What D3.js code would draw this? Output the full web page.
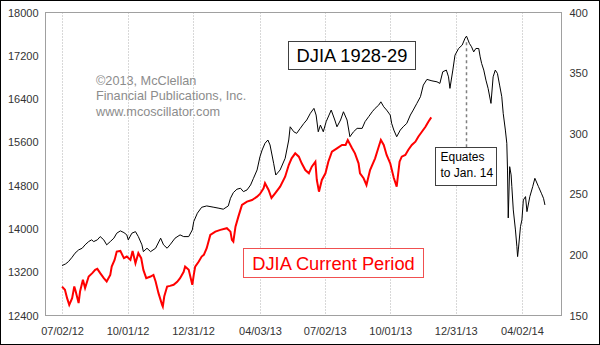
<!DOCTYPE html>
<html><head><meta charset="utf-8">
<script src="https://cdn.jsdelivr.net/npm/d3@7"></script>
<style>
html,body{margin:0;padding:0;background:#fff;}
svg{display:block;font-family:"Liberation Sans",Arial,sans-serif;}
</style></head>
<body><svg id="c" width="600" height="345"></svg>
<script>
// ---- DATA ----
const leftTicks = [12400,13200,14000,14800,15600,16400,17200,18000];
const rightTicks = [150,200,250,300,350,400];
const tickDates = ["2012-07-02","2012-10-01","2012-12-31","2013-04-03","2013-07-02","2013-10-01","2013-12-31","2014-04-02"];
const tickLabels = ["07/02/12","10/01/12","12/31/12","04/03/13","07/02/13","10/01/13","12/31/13","04/02/14"];

// DJIA 1928-29 (right axis), aligned to current dates
const oldDates = ["2012-07-02","2012-07-07","2012-07-11","2012-07-16","2012-07-20","2012-07-25","2012-07-30","2012-08-03","2012-08-08","2012-08-12","2012-08-15","2012-08-20","2012-08-24","2012-08-29","2012-09-02","2012-09-07","2012-09-12","2012-09-16","2012-09-21","2012-09-26","2012-09-30","2012-10-02","2012-10-07","2012-10-12","2012-10-16","2012-10-21","2012-10-23","2012-10-28","2012-11-02","2012-11-09","2012-11-16","2012-11-20","2012-11-25","2012-11-29","2012-12-06","2012-12-13","2012-12-18","2012-12-25","2012-12-30","2013-01-01","2013-01-06","2013-01-12","2013-01-19","2013-01-29","2013-02-05","2013-02-11","2013-02-18","2013-02-21","2013-02-25","2013-03-02","2013-03-07","2013-03-11","2013-03-16","2013-03-21","2013-03-25","2013-03-30","2013-04-03","2013-04-06","2013-04-10","2013-04-14","2013-04-17","2013-04-22","2013-04-25","2013-05-01","2013-05-08","2013-05-13","2013-05-15","2013-05-20","2013-05-24","2013-05-29","2013-06-03","2013-06-07","2013-06-12","2013-06-17","2013-06-20","2013-06-23","2013-06-26","2013-06-30","2013-07-04","2013-07-08","2013-07-11","2013-07-16","2013-07-19","2013-07-24","2013-07-28","2013-08-02","2013-08-06","2013-08-11","2013-08-16","2013-08-23","2013-08-27","2013-09-01","2013-09-06","2013-09-10","2013-09-15","2013-09-18","2013-09-22","2013-09-26","2013-10-01","2013-10-03","2013-10-06","2013-10-10","2013-10-15","2013-10-19","2013-10-24","2013-10-29","2013-11-02","2013-11-07","2013-11-12","2013-11-16","2013-11-21","2013-11-28","2013-12-05","2013-12-09","2013-12-13","2013-12-18","2013-12-21","2013-12-23","2013-12-27","2013-12-30","2014-01-04","2014-01-09","2014-01-13","2014-01-15","2014-01-19","2014-01-22","2014-01-25","2014-01-28","2014-02-01","2014-02-03","2014-02-05","2014-02-08","2014-02-11","2014-02-14","2014-02-18","2014-02-21","2014-02-24","2014-02-27","2014-03-02","2014-03-05","2014-03-07","2014-03-10","2014-03-12","2014-03-13","2014-03-14","2014-03-16","2014-03-18","2014-03-19","2014-03-21","2014-03-24","2014-03-26","2014-03-27","2014-03-28","2014-03-31","2014-04-02","2014-04-04","2014-04-07","2014-04-09","2014-04-13","2014-04-17","2014-04-20","2014-04-25","2014-04-29","2014-05-02","2014-05-04"];
const oldValues = [191.2,192.6,194.5,198.1,201.4,204.1,205.5,208.3,211,212.4,211,212.4,215.1,212.4,208.3,211,213.8,217.9,219.8,218.4,216.5,212.4,217.9,219.2,215.1,208.3,202.7,205.5,202.7,205.5,213.8,208.3,205.5,208.3,213.8,216.5,215.1,215.1,220.6,227.5,234.4,239.3,240.4,239.3,238.5,237.7,240.4,246.7,251.4,254.2,255,252.2,253.6,257.7,263.2,270.1,281,286.5,292.1,294.8,290.7,275.6,265.9,270.1,279.7,294.8,305.7,301.6,300.3,304.4,308.5,311.3,316.8,320.9,315.4,301.6,307.1,301.6,309.9,315.4,319.5,311.3,305.7,311.3,318.1,311.3,297.5,301.6,304.4,304.4,309.9,314,318.1,320.9,323.6,326.3,322.2,319.5,315.4,308.5,303,297.5,303,305.7,308.5,315.4,319.5,325,330.5,340.1,344.8,343.6,342.8,341.5,351.1,352.5,346.9,337.4,352.5,364.8,370.3,373.1,378.8,380.5,374.5,371.7,367.5,370.3,370.3,363.4,358,352.5,344.2,337.4,325,346.9,352.5,349.7,340.1,330.5,316.8,303,292.1,270,230.5,272.8,266,256.3,237.1,220.6,206.9,198.6,204.1,223.3,228.9,245.3,248.1,235.7,248.1,256.3,263.2,256.3,250.9,246.7,241.2];

// DJIA current period (left axis)
const curDates = ["2012-07-02","2012-07-06","2012-07-09","2012-07-12","2012-07-16","2012-07-19","2012-07-21","2012-07-25","2012-07-27","2012-07-31","2012-08-03","2012-08-08","2012-08-13","2012-08-17","2012-08-20","2012-08-24","2012-08-29","2012-09-02","2012-09-07","2012-09-09","2012-09-13","2012-09-16","2012-09-21","2012-09-26","2012-09-30","2012-10-05","2012-10-08","2012-10-12","2012-10-16","2012-10-20","2012-10-23","2012-10-27","2012-11-02","2012-11-06","2012-11-09","2012-11-13","2012-11-18","2012-11-19","2012-11-21","2012-11-25","2012-11-29","2012-12-04","2012-12-09","2012-12-13","2012-12-18","2012-12-20","2012-12-25","2012-12-30","2013-01-01","2013-01-03","2013-01-08","2013-01-12","2013-01-15","2013-01-19","2013-01-24","2013-01-31","2013-02-07","2013-02-16","2013-02-21","2013-02-23","2013-02-25","2013-02-28","2013-03-04","2013-03-09","2013-03-16","2013-03-23","2013-03-30","2013-04-03","2013-04-08","2013-04-10","2013-04-15","2013-04-19","2013-04-24","2013-05-01","2013-05-08","2013-05-13","2013-05-17","2013-05-22","2013-05-27","2013-05-31","2013-06-05","2013-06-10","2013-06-14","2013-06-19","2013-06-21","2013-06-24","2013-06-28","2013-07-03","2013-07-07","2013-07-12","2013-07-19","2013-07-26","2013-07-31","2013-08-03","2013-08-09","2013-08-13","2013-08-18","2013-08-20","2013-08-25","2013-08-29","2013-09-03","2013-09-10","2013-09-15","2013-09-18","2013-09-22","2013-09-26","2013-10-01","2013-10-06","2013-10-10","2013-10-14","2013-10-17","2013-10-22","2013-10-26","2013-10-31","2013-11-05","2013-11-09","2013-11-14","2013-11-19","2013-11-23","2013-11-27"];
const curValues = [12935,12874,12721,12597,12721,12935,12843,12629,12843,13059,12906,13120,13183,13243,13262,13183,13090,13028,13151,13304,13428,13581,13594,13459,13489,13428,13594,13367,13552,13459,13243,13090,13120,13151,13028,12813,12597,12566,12751,12935,12948,12967,13022,13090,13207,13304,13243,12967,13151,13304,13397,13489,13520,13644,13889,13950,13982,14013,13950,13797,13766,14043,14227,14443,14504,14535,14596,14646,14751,14844,14720,14572,14659,14781,14965,15181,15305,15397,15335,15213,15089,15028,15150,15242,14905,14689,14905,15028,15242,15427,15490,15551,15551,15643,15490,15397,15213,15028,14936,14812,15089,15305,15519,15643,15551,15366,15213,14942,14781,15242,15335,15366,15458,15551,15612,15704,15796,15888,15981,16062];

const titleOld = "DJIA 1928-29";
const titleCur = "DJIA Current Period";
const noteLines = ["Equates","to Jan. 14"];
const noteDate = "2014-01-14";
const credit = ["\u00a92013, McClellan","Financial Publications, Inc.","www.mcoscillator.com"];

// ---- CHART ----
const parse = d3.utcParse("%Y-%m-%d");
const svg = d3.select("#c");
const L = 45.5, R = 561.5, T = 12.5, B = 315.5;

const x = d3.scaleUtc().domain([parse("2012-06-09"), parse("2014-05-27")]).range([L, R]);
const yL = d3.scaleLinear().domain([12400, 18000]).range([B, T]);
const yR = d3.scaleLinear().domain([150, 400]).range([B, T]);

svg.append("rect").attr("x",0.5).attr("y",0.5).attr("width",599).attr("height",344)
  .attr("fill","#fff").attr("stroke","#000");

// vertical dotted gridlines
svg.append("g").selectAll("line").data(tickDates).join("line")
  .attr("x1", d => Math.round(x(parse(d))) + 0.5).attr("x2", d => Math.round(x(parse(d))) + 0.5)
  .attr("y1", T).attr("y2", B)
  .attr("stroke", "#b0b0b0").attr("stroke-dasharray", "1,2");

// frame
svg.append("rect").attr("x",L).attr("y",T).attr("width",R-L).attr("height",B-T)
  .attr("fill","none").attr("stroke","#a0a0a0");

// axes
const axL = d3.axisLeft(yL).tickValues(leftTicks).tickSize(0).tickPadding(7).tickFormat(d3.format("d"));
const axR = d3.axisRight(yR).tickValues(rightTicks).tickSize(0).tickPadding(8).tickFormat(d3.format("d"));
const axB = d3.axisBottom(x).tickValues(tickDates.map(parse)).tickSize(0).tickPadding(12)
  .tickFormat((d,i) => tickLabels[i]);
function styleAxis(g){ g.select(".domain").remove(); g.selectAll("text").attr("fill","#333").style("font-size","11px").style("font-family","'Liberation Sans',Arial,sans-serif"); }
svg.append("g").attr("transform",`translate(${L},0)`).call(axL).call(styleAxis);
svg.append("g").attr("transform",`translate(${R},0)`).call(axR).call(styleAxis);
svg.append("g").attr("transform",`translate(0,${B})`).call(axB).call(styleAxis);

// credit text
svg.append("g").selectAll("text").data(credit).join("text")
  .attr("x", 96).attr("y", (d,i) => 84.5 + i*15.5)
  .attr("fill","#8c8c8c").style("font-size","12.7px").text(d => d);

// lines
const oldData = oldDates.map((d,i) => ({date: parse(d), v: oldValues[i]}));
const curData = curDates.map((d,i) => ({date: parse(d), v: curValues[i]}));
svg.append("path").datum(oldData)
  .attr("d", d3.line().x(d => x(d.date)).y(d => yR(d.v)))
  .attr("fill","none").attr("stroke","#000").attr("stroke-width",1);
svg.append("path").datum(curData)
  .attr("d", d3.line().x(d => x(d.date)).y(d => yL(d.v)))
  .attr("fill","none").attr("stroke","#ff0000").attr("stroke-width",2);

// dashed marker from peak down to note box
const nx = Math.round(x(parse(noteDate))) + 0.5;
const peak = d3.max(oldValues);
svg.append("line").attr("x1",nx).attr("x2",nx).attr("y1",yR(peak)+6).attr("y2",147)
  .attr("stroke","#808080").attr("stroke-width",1.5).attr("stroke-dasharray","3,3");

// note box
svg.append("rect").attr("x",435.5).attr("y",147.5).attr("width",61).attr("height",38)
  .attr("fill","#fff").attr("stroke","#404040");
svg.append("g").selectAll("text").data(noteLines).join("text")
  .attr("x",440.5).attr("y",(d,i)=>161 + i*15.5).attr("fill","#000").style("font-size","12px").text(d=>d);

// title boxes
svg.append("rect").attr("x",288.5).attr("y",41.5).attr("width",127).attr("height",28)
  .attr("fill","#fff").attr("stroke","#404040");
svg.append("text").attr("x",352).attr("y",61.5).attr("text-anchor","middle")
  .attr("fill","#000").style("font-size","18.3px").text(titleOld);

svg.append("rect").attr("x",243.5).attr("y",248.5).attr("width",180).attr("height",29)
  .attr("fill","#fff").attr("stroke","#f05050");
svg.append("text").attr("x",333.5).attr("y",269.5).attr("text-anchor","middle")
  .attr("fill","#ff0000").style("font-size","18.3px").text(titleCur);
</script></body></html>
